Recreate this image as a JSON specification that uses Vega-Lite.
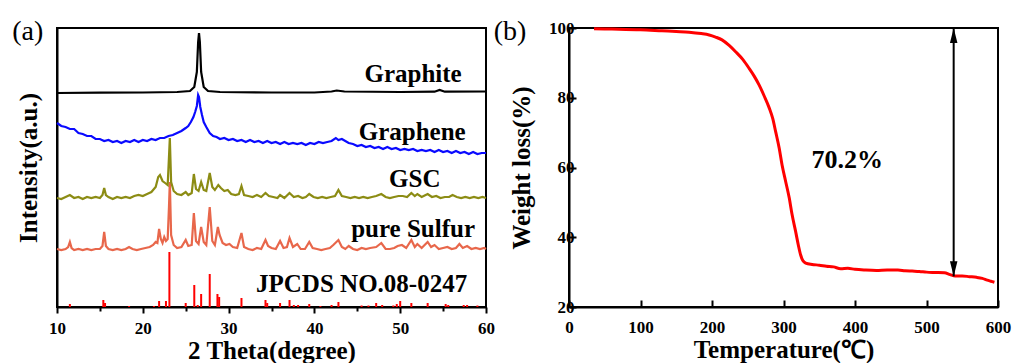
{
  "$schema": "https://vega.github.io/schema/vega-lite/v6.json",
  "padding": {"left": 11, "top": 16, "right": 5, "bottom": 0},
  "bounds": "flush",
  "spacing": 83,
  "config": {
    "font": "Liberation Serif",
    "view": {"stroke": "black", "strokeWidth": 2},
    "text": {"font": "Liberation Serif"},
    "axis": {
      "domainColor": "black", "domainWidth": 2, "tickColor": "black", "tickWidth": 2,
      "labelFont": "Liberation Serif", "labelFontWeight": "bold", "labelFontSize": 17, "labelColor": "black",
      "titleFont": "Liberation Serif", "titleFontWeight": "bold", "titleFontSize": 25, "titleColor": "black",
      "grid": false, "labelFlush": false, "labelOverlap": false
    }
  },
  "datasets": {
    "xrd": [
      {"s":"pure Sulfur","x":10,"y":58},{"s":"pure Sulfur","x":10.5,"y":57},{"s":"pure Sulfur","x":11,"y":58},{"s":"pure Sulfur","x":11.3,"y":60},{"s":"pure Sulfur","x":11.5,"y":65},{"s":"pure Sulfur","x":11.7,"y":59},{"s":"pure Sulfur","x":12,"y":57},{"s":"pure Sulfur","x":12.5,"y":58},{"s":"pure Sulfur","x":13,"y":57},{"s":"pure Sulfur","x":13.5,"y":58},{"s":"pure Sulfur","x":14,"y":57},{"s":"pure Sulfur","x":14.5,"y":58},{"s":"pure Sulfur","x":15,"y":58},{"s":"pure Sulfur","x":15.3,"y":61},{"s":"pure Sulfur","x":15.5,"y":75},{"s":"pure Sulfur","x":15.7,"y":61},{"s":"pure Sulfur","x":16,"y":58},{"s":"pure Sulfur","x":16.5,"y":57},{"s":"pure Sulfur","x":17,"y":58},{"s":"pure Sulfur","x":17.5,"y":57},{"s":"pure Sulfur","x":18,"y":58},{"s":"pure Sulfur","x":18.4,"y":60},{"s":"pure Sulfur","x":18.8,"y":58},{"s":"pure Sulfur","x":19.3,"y":57},{"s":"pure Sulfur","x":19.8,"y":58},{"s":"pure Sulfur","x":20.3,"y":59},{"s":"pure Sulfur","x":20.8,"y":60},{"s":"pure Sulfur","x":21.2,"y":62},{"s":"pure Sulfur","x":21.5,"y":65},{"s":"pure Sulfur","x":21.7,"y":64},{"s":"pure Sulfur","x":21.9,"y":78},{"s":"pure Sulfur","x":22.1,"y":68},{"s":"pure Sulfur","x":22.3,"y":64},{"s":"pure Sulfur","x":22.5,"y":70},{"s":"pure Sulfur","x":22.7,"y":66},{"s":"pure Sulfur","x":22.9,"y":68},{"s":"pure Sulfur","x":23.05,"y":100},{"s":"pure Sulfur","x":23.15,"y":125},{"s":"pure Sulfur","x":23.3,"y":72},{"s":"pure Sulfur","x":23.6,"y":62},{"s":"pure Sulfur","x":24,"y":59},{"s":"pure Sulfur","x":24.5,"y":60},{"s":"pure Sulfur","x":25,"y":67},{"s":"pure Sulfur","x":25.3,"y":61},{"s":"pure Sulfur","x":25.7,"y":62},{"s":"pure Sulfur","x":25.95,"y":94},{"s":"pure Sulfur","x":26.2,"y":66},{"s":"pure Sulfur","x":26.5,"y":63},{"s":"pure Sulfur","x":26.8,"y":80},{"s":"pure Sulfur","x":27.1,"y":65},{"s":"pure Sulfur","x":27.4,"y":62},{"s":"pure Sulfur","x":27.8,"y":100},{"s":"pure Sulfur","x":28.1,"y":66},{"s":"pure Sulfur","x":28.4,"y":62},{"s":"pure Sulfur","x":28.75,"y":80},{"s":"pure Sulfur","x":28.95,"y":72},{"s":"pure Sulfur","x":29.3,"y":64},{"s":"pure Sulfur","x":29.7,"y":62},{"s":"pure Sulfur","x":30.1,"y":63},{"s":"pure Sulfur","x":30.5,"y":60},{"s":"pure Sulfur","x":31,"y":59},{"s":"pure Sulfur","x":31.5,"y":74},{"s":"pure Sulfur","x":31.8,"y":60},{"s":"pure Sulfur","x":32.3,"y":58},{"s":"pure Sulfur","x":32.8,"y":57},{"s":"pure Sulfur","x":33.3,"y":59},{"s":"pure Sulfur","x":33.8,"y":58},{"s":"pure Sulfur","x":34.3,"y":67},{"s":"pure Sulfur","x":34.6,"y":61},{"s":"pure Sulfur","x":35,"y":59},{"s":"pure Sulfur","x":35.5,"y":58},{"s":"pure Sulfur","x":36,"y":66},{"s":"pure Sulfur","x":36.4,"y":59},{"s":"pure Sulfur","x":36.8,"y":60},{"s":"pure Sulfur","x":37.1,"y":69},{"s":"pure Sulfur","x":37.5,"y":60},{"s":"pure Sulfur","x":38,"y":63},{"s":"pure Sulfur","x":38.4,"y":58},{"s":"pure Sulfur","x":38.9,"y":58},{"s":"pure Sulfur","x":39.4,"y":65},{"s":"pure Sulfur","x":39.8,"y":59},{"s":"pure Sulfur","x":40.3,"y":58},{"s":"pure Sulfur","x":40.8,"y":57},{"s":"pure Sulfur","x":41.3,"y":58},{"s":"pure Sulfur","x":41.8,"y":59},{"s":"pure Sulfur","x":42.2,"y":62},{"s":"pure Sulfur","x":42.8,"y":67},{"s":"pure Sulfur","x":43.2,"y":60},{"s":"pure Sulfur","x":43.6,"y":58},{"s":"pure Sulfur","x":44,"y":61},{"s":"pure Sulfur","x":44.5,"y":58},{"s":"pure Sulfur","x":45,"y":57},{"s":"pure Sulfur","x":45.5,"y":59},{"s":"pure Sulfur","x":46,"y":58},{"s":"pure Sulfur","x":46.5,"y":59},{"s":"pure Sulfur","x":47.2,"y":60},{"s":"pure Sulfur","x":47.8,"y":64},{"s":"pure Sulfur","x":48.3,"y":58},{"s":"pure Sulfur","x":48.8,"y":58},{"s":"pure Sulfur","x":49.3,"y":59},{"s":"pure Sulfur","x":49.7,"y":61},{"s":"pure Sulfur","x":50.2,"y":62},{"s":"pure Sulfur","x":50.7,"y":59},{"s":"pure Sulfur","x":51.3,"y":67},{"s":"pure Sulfur","x":51.7,"y":60},{"s":"pure Sulfur","x":52,"y":63},{"s":"pure Sulfur","x":52.5,"y":59},{"s":"pure Sulfur","x":53.2,"y":65},{"s":"pure Sulfur","x":53.6,"y":60},{"s":"pure Sulfur","x":54,"y":62},{"s":"pure Sulfur","x":54.5,"y":58},{"s":"pure Sulfur","x":55,"y":59},{"s":"pure Sulfur","x":55.5,"y":60},{"s":"pure Sulfur","x":56,"y":58},{"s":"pure Sulfur","x":56.5,"y":59},{"s":"pure Sulfur","x":56.9,"y":63},{"s":"pure Sulfur","x":57.3,"y":59},{"s":"pure Sulfur","x":57.8,"y":61},{"s":"pure Sulfur","x":58.3,"y":58},{"s":"pure Sulfur","x":58.8,"y":59},{"s":"pure Sulfur","x":59.3,"y":58},{"s":"pure Sulfur","x":59.8,"y":59},{"s":"pure Sulfur","x":60,"y":58},

      {"s":"GSC","x":10,"y":109},{"s":"GSC","x":10.5,"y":108},{"s":"GSC","x":11,"y":110},{"s":"GSC","x":11.5,"y":112},{"s":"GSC","x":12,"y":109},{"s":"GSC","x":12.5,"y":110},{"s":"GSC","x":13,"y":108},{"s":"GSC","x":13.5,"y":110},{"s":"GSC","x":14,"y":109},{"s":"GSC","x":14.5,"y":110},{"s":"GSC","x":15,"y":109},{"s":"GSC","x":15.3,"y":112},{"s":"GSC","x":15.5,"y":119},{"s":"GSC","x":15.7,"y":112},{"s":"GSC","x":16,"y":110},{"s":"GSC","x":16.5,"y":108},{"s":"GSC","x":17,"y":110},{"s":"GSC","x":17.5,"y":109},{"s":"GSC","x":18,"y":110},{"s":"GSC","x":18.5,"y":109},{"s":"GSC","x":19,"y":111},{"s":"GSC","x":19.5,"y":112},{"s":"GSC","x":20,"y":111},{"s":"GSC","x":20.5,"y":113},{"s":"GSC","x":21,"y":115},{"s":"GSC","x":21.5,"y":120},{"s":"GSC","x":21.8,"y":130},{"s":"GSC","x":22,"y":132},{"s":"GSC","x":22.3,"y":126},{"s":"GSC","x":22.6,"y":124},{"s":"GSC","x":22.9,"y":122},{"s":"GSC","x":23.05,"y":150},{"s":"GSC","x":23.15,"y":169},{"s":"GSC","x":23.3,"y":125},{"s":"GSC","x":23.6,"y":116},{"s":"GSC","x":24,"y":113},{"s":"GSC","x":24.5,"y":112},{"s":"GSC","x":25,"y":115},{"s":"GSC","x":25.3,"y":112},{"s":"GSC","x":25.7,"y":114},{"s":"GSC","x":25.95,"y":133},{"s":"GSC","x":26.2,"y":118},{"s":"GSC","x":26.5,"y":116},{"s":"GSC","x":26.8,"y":125},{"s":"GSC","x":27.1,"y":117},{"s":"GSC","x":27.4,"y":116},{"s":"GSC","x":27.8,"y":134},{"s":"GSC","x":28.1,"y":120},{"s":"GSC","x":28.4,"y":117},{"s":"GSC","x":28.8,"y":122},{"s":"GSC","x":29.1,"y":119},{"s":"GSC","x":29.5,"y":116},{"s":"GSC","x":29.9,"y":117},{"s":"GSC","x":30.3,"y":113},{"s":"GSC","x":30.8,"y":112},{"s":"GSC","x":31.2,"y":113},{"s":"GSC","x":31.5,"y":121},{"s":"GSC","x":31.8,"y":112},{"s":"GSC","x":32.3,"y":111},{"s":"GSC","x":32.8,"y":110},{"s":"GSC","x":33.3,"y":112},{"s":"GSC","x":33.8,"y":110},{"s":"GSC","x":34.3,"y":114},{"s":"GSC","x":34.7,"y":111},{"s":"GSC","x":35.2,"y":110},{"s":"GSC","x":35.7,"y":109},{"s":"GSC","x":36,"y":112},{"s":"GSC","x":36.5,"y":109},{"s":"GSC","x":37.1,"y":114},{"s":"GSC","x":37.6,"y":110},{"s":"GSC","x":38.1,"y":111},{"s":"GSC","x":38.6,"y":109},{"s":"GSC","x":39,"y":110},{"s":"GSC","x":39.4,"y":113},{"s":"GSC","x":39.9,"y":110},{"s":"GSC","x":40.4,"y":109},{"s":"GSC","x":40.9,"y":110},{"s":"GSC","x":41.4,"y":109},{"s":"GSC","x":41.9,"y":110},{"s":"GSC","x":42.4,"y":111},{"s":"GSC","x":42.8,"y":117},{"s":"GSC","x":43.2,"y":111},{"s":"GSC","x":43.7,"y":110},{"s":"GSC","x":44.2,"y":109},{"s":"GSC","x":44.7,"y":110},{"s":"GSC","x":45.2,"y":109},{"s":"GSC","x":45.7,"y":110},{"s":"GSC","x":46.2,"y":109},{"s":"GSC","x":46.7,"y":110},{"s":"GSC","x":47.2,"y":111},{"s":"GSC","x":47.8,"y":113},{"s":"GSC","x":48.3,"y":110},{"s":"GSC","x":48.8,"y":109},{"s":"GSC","x":49.3,"y":110},{"s":"GSC","x":49.8,"y":111},{"s":"GSC","x":50.3,"y":111},{"s":"GSC","x":50.8,"y":110},{"s":"GSC","x":51.3,"y":114},{"s":"GSC","x":51.7,"y":111},{"s":"GSC","x":52,"y":113},{"s":"GSC","x":52.5,"y":110},{"s":"GSC","x":53.2,"y":113},{"s":"GSC","x":53.7,"y":110},{"s":"GSC","x":54.2,"y":111},{"s":"GSC","x":54.7,"y":109},{"s":"GSC","x":55.2,"y":110},{"s":"GSC","x":55.7,"y":110},{"s":"GSC","x":56.1,"y":112},{"s":"GSC","x":56.6,"y":110},{"s":"GSC","x":57.1,"y":109},{"s":"GSC","x":57.6,"y":110},{"s":"GSC","x":58.1,"y":109},{"s":"GSC","x":58.6,"y":110},{"s":"GSC","x":59.1,"y":109},{"s":"GSC","x":59.6,"y":110},{"s":"GSC","x":60,"y":109},

      {"s":"Graphene","x":10,"y":184},{"s":"Graphene","x":10.5,"y":181},{"s":"Graphene","x":11,"y":180},{"s":"Graphene","x":11.5,"y":178},{"s":"Graphene","x":12,"y":178},{"s":"Graphene","x":12.5,"y":174},{"s":"Graphene","x":13,"y":173},{"s":"Graphene","x":13.5,"y":171},{"s":"Graphene","x":14,"y":171},{"s":"Graphene","x":14.5,"y":168},{"s":"Graphene","x":15,"y":168},{"s":"Graphene","x":15.5,"y":166},{"s":"Graphene","x":16,"y":167},{"s":"Graphene","x":16.5,"y":165},{"s":"Graphene","x":17,"y":166},{"s":"Graphene","x":17.5,"y":164},{"s":"Graphene","x":18,"y":166},{"s":"Graphene","x":18.5,"y":165},{"s":"Graphene","x":19,"y":167},{"s":"Graphene","x":19.5,"y":165},{"s":"Graphene","x":20,"y":167},{"s":"Graphene","x":20.5,"y":166},{"s":"Graphene","x":21,"y":168},{"s":"Graphene","x":21.5,"y":167},{"s":"Graphene","x":22,"y":169},{"s":"Graphene","x":22.5,"y":169},{"s":"Graphene","x":23,"y":171},{"s":"Graphene","x":23.5,"y":172},{"s":"Graphene","x":24,"y":174},{"s":"Graphene","x":24.5,"y":176},{"s":"Graphene","x":25,"y":179},{"s":"Graphene","x":25.3,"y":181},{"s":"Graphene","x":25.6,"y":185},{"s":"Graphene","x":25.9,"y":190},{"s":"Graphene","x":26.1,"y":195},{"s":"Graphene","x":26.3,"y":201},{"s":"Graphene","x":26.45,"y":212},{"s":"Graphene","x":26.55,"y":210},{"s":"Graphene","x":26.7,"y":200},{"s":"Graphene","x":26.9,"y":192},{"s":"Graphene","x":27.1,"y":185},{"s":"Graphene","x":27.4,"y":180},{"s":"Graphene","x":27.8,"y":174},{"s":"Graphene","x":28.2,"y":171},{"s":"Graphene","x":28.6,"y":170},{"s":"Graphene","x":29,"y":168},{"s":"Graphene","x":29.5,"y":169},{"s":"Graphene","x":30,"y":167},{"s":"Graphene","x":30.5,"y":168},{"s":"Graphene","x":31,"y":166},{"s":"Graphene","x":31.5,"y":167},{"s":"Graphene","x":32,"y":165},{"s":"Graphene","x":32.5,"y":167},{"s":"Graphene","x":33,"y":165},{"s":"Graphene","x":33.5,"y":166},{"s":"Graphene","x":34,"y":164},{"s":"Graphene","x":34.5,"y":166},{"s":"Graphene","x":35,"y":164},{"s":"Graphene","x":35.5,"y":165},{"s":"Graphene","x":36,"y":163},{"s":"Graphene","x":36.5,"y":165},{"s":"Graphene","x":37,"y":163},{"s":"Graphene","x":37.5,"y":164},{"s":"Graphene","x":38,"y":163},{"s":"Graphene","x":38.5,"y":164},{"s":"Graphene","x":39,"y":162},{"s":"Graphene","x":39.5,"y":164},{"s":"Graphene","x":40,"y":163},{"s":"Graphene","x":40.5,"y":165},{"s":"Graphene","x":41,"y":164},{"s":"Graphene","x":41.5,"y":165},{"s":"Graphene","x":42,"y":166},{"s":"Graphene","x":42.5,"y":169},{"s":"Graphene","x":42.8,"y":167},{"s":"Graphene","x":43.2,"y":168},{"s":"Graphene","x":43.6,"y":166},{"s":"Graphene","x":44,"y":164},{"s":"Graphene","x":44.5,"y":163},{"s":"Graphene","x":45,"y":161},{"s":"Graphene","x":45.5,"y":162},{"s":"Graphene","x":46,"y":160},{"s":"Graphene","x":46.5,"y":161},{"s":"Graphene","x":47,"y":159},{"s":"Graphene","x":47.5,"y":160},{"s":"Graphene","x":48,"y":158},{"s":"Graphene","x":48.5,"y":160},{"s":"Graphene","x":49,"y":158},{"s":"Graphene","x":49.5,"y":159},{"s":"Graphene","x":50,"y":157},{"s":"Graphene","x":50.5,"y":158},{"s":"Graphene","x":51,"y":157},{"s":"Graphene","x":51.5,"y":158},{"s":"Graphene","x":52,"y":156},{"s":"Graphene","x":52.5,"y":157},{"s":"Graphene","x":53,"y":156},{"s":"Graphene","x":53.5,"y":157},{"s":"Graphene","x":54,"y":155},{"s":"Graphene","x":54.5,"y":157},{"s":"Graphene","x":55,"y":155},{"s":"Graphene","x":55.5,"y":156},{"s":"Graphene","x":56,"y":154},{"s":"Graphene","x":56.5,"y":156},{"s":"Graphene","x":57,"y":154},{"s":"Graphene","x":57.5,"y":155},{"s":"Graphene","x":58,"y":153},{"s":"Graphene","x":58.5,"y":155},{"s":"Graphene","x":59,"y":153},{"s":"Graphene","x":59.5,"y":154},{"s":"Graphene","x":60,"y":154},

      {"s":"Graphite","x":10,"y":214},{"s":"Graphite","x":15,"y":214.3},{"s":"Graphite","x":20,"y":214.5},{"s":"Graphite","x":24,"y":215},{"s":"Graphite","x":25.5,"y":216},{"s":"Graphite","x":26,"y":220},{"s":"Graphite","x":26.3,"y":235},{"s":"Graphite","x":26.45,"y":265},{"s":"Graphite","x":26.55,"y":274},{"s":"Graphite","x":26.65,"y":265},{"s":"Graphite","x":26.8,"y":235},{"s":"Graphite","x":27.1,"y":220},{"s":"Graphite","x":27.6,"y":216},{"s":"Graphite","x":29,"y":215},{"s":"Graphite","x":35,"y":214.5},{"s":"Graphite","x":40,"y":214.5},{"s":"Graphite","x":42,"y":215.5},{"s":"Graphite","x":42.6,"y":216.5},{"s":"Graphite","x":43.5,"y":215.5},{"s":"Graphite","x":50,"y":215},{"s":"Graphite","x":54,"y":215.3},{"s":"Graphite","x":54.6,"y":217},{"s":"Graphite","x":55.2,"y":215.3},{"s":"Graphite","x":60,"y":215.5}
    ],
    "sticks": [
      {"x":11.5,"h":3},{"x":15.4,"h":7},{"x":15.6,"h":4},{"x":18.4,"h":1},{"x":21.3,"h":1},{"x":21.9,"h":6},{"x":22.7,"h":6},{"x":23.1,"h":55},{"x":25.0,"h":4},{"x":26.0,"h":22},{"x":26.4,"h":2},{"x":26.8,"h":13},{"x":27.8,"h":33},{"x":28.7,"h":13},{"x":28.9,"h":10},{"x":31.5,"h":9},{"x":34.3,"h":7},{"x":34.5,"h":4},{"x":36.0,"h":4},{"x":37.1,"h":7},{"x":37.6,"h":2},{"x":38.1,"h":2},{"x":39.4,"h":3},{"x":40.7,"h":1},{"x":42.0,"h":2},{"x":42.8,"h":5},{"x":45.5,"h":1.5},{"x":46.3,"h":1.5},{"x":47.2,"h":4},{"x":47.9,"h":2},{"x":49.2,"h":1.5},{"x":49.6,"h":3},{"x":50.0,"h":6},{"x":51.3,"h":4},{"x":53.2,"h":4},{"x":55.3,"h":3},{"x":55.6,"h":2},{"x":57.4,"h":2},{"x":57.8,"h":2},{"x":59.0,"h":1.5}
    ],
    "labelsA": [
      {"t":"Graphite","x":51.5,"y":225},{"t":"Graphene","x":51.4,"y":167},{"t":"GSC","x":51.7,"y":120},{"t":"pure Sulfur","x":51.5,"y":70},{"t":"JPCDS NO.08-0247","x":45.5,"y":15}
    ],
    "tga": [
      {"T":35,"W":99.8},{"T":60,"W":99.7},{"T":100,"W":99.5},{"T":130,"W":99.2},{"T":150,"W":99.0},{"T":168,"W":98.8},{"T":185,"W":98.4},{"T":196,"W":98.0},{"T":205,"W":97.4},{"T":214,"W":96.6},{"T":224,"W":95.0},{"T":233,"W":93.2},{"T":243,"W":91.0},{"T":252,"W":88.4},{"T":259,"W":86.2},{"T":266,"W":83.6},{"T":273,"W":80.5},{"T":280,"W":77.1},{"T":285,"W":74.0},{"T":289,"W":70.3},{"T":294,"W":65.5},{"T":298,"W":60.7},{"T":303,"W":56.0},{"T":308,"W":51.3},{"T":312,"W":46.5},{"T":317,"W":41.6},{"T":321,"W":37.5},{"T":324,"W":34.9},{"T":327,"W":33.3},{"T":331,"W":32.6},{"T":340,"W":32.2},{"T":350,"W":32.0},{"T":360,"W":31.7},{"T":370,"W":31.5},{"T":380,"W":31.0},{"T":390,"W":31.1},{"T":400,"W":30.8},{"T":415,"W":30.6},{"T":430,"W":30.5},{"T":445,"W":30.6},{"T":460,"W":30.6},{"T":470,"W":30.4},{"T":480,"W":30.3},{"T":490,"W":30.2},{"T":500,"W":30.0},{"T":512,"W":29.9},{"T":525,"W":29.8},{"T":533,"W":29.3},{"T":540,"W":28.9},{"T":550,"W":28.9},{"T":560,"W":28.7},{"T":570,"W":28.5},{"T":578,"W":28.2},{"T":585,"W":27.7},{"T":590,"W":27.4},{"T":595,"W":27.1}
    ],
    "arrow": [{"T":538,"W1":28.8,"W2":100}],
    "heads": [{"T":538,"W":100,"d":"up"},{"T":538,"W":28.8,"d":"down"}]
  },
  "hconcat": [
    {
      "width": 429, "height": 279,
      "layer": [
        {
          "data": {"name": "xrd"},
          "mark": {"type": "line", "strokeWidth": 2.2},
          "encoding": {
            "x": {"field": "x", "type": "quantitative", "scale": {"domain": [10, 60], "nice": false},
              "axis": {"title": "2 Theta(degree)", "values": [10,15,20,25,30,35,40,45,50,55,60],
                "labelExpr": "datum.value % 10 === 0 ? datum.label : ''",
                "tickSize": {"condition": {"test": "datum.value % 10 === 0", "value": 6}, "value": 4},
                "labelPadding": 7, "titlePadding": 2}},
            "y": {"field": "y", "type": "quantitative", "scale": {"domain": [0, 279], "nice": false},
              "axis": {"title": "Intensity(a.u.)", "labels": false, "ticks": false, "titlePadding": 16}},
            "color": {"field": "s", "type": "nominal", "legend": null,
              "scale": {"domain": ["pure Sulfur", "GSC", "Graphene", "Graphite"], "range": ["#e8674b", "#8c8c14", "#0a0aff", "#000000"]}}
          }
        },
        {
          "data": {"name": "sticks"},
          "mark": {"type": "rule", "color": "#ff0000", "strokeWidth": 2},
          "encoding": {
            "x": {"field": "x", "type": "quantitative"},
            "y": {"field": "h", "type": "quantitative"},
            "y2": {"datum": 0}
          }
        },
        {
          "data": {"name": "labelsA"},
          "mark": {"type": "text", "fontWeight": "bold", "fontSize": 25, "align": "center", "baseline": "alphabetic", "color": "black"},
          "encoding": {
            "x": {"field": "x", "type": "quantitative"},
            "y": {"field": "y", "type": "quantitative"},
            "text": {"field": "t"}
          }
        },
        {
          "data": {"values": [{"t": "(a)", "x": 6.6, "y": 267}]},
          "mark": {"type": "text", "fontSize": 28, "align": "center", "baseline": "alphabetic", "color": "black"},
          "encoding": {
            "x": {"field": "x", "type": "quantitative"},
            "y": {"field": "y", "type": "quantitative"},
            "text": {"field": "t"}
          }
        }
      ]
    },
    {
      "width": 429, "height": 279,
      "layer": [
        {
          "data": {"name": "tga"},
          "mark": {"type": "line", "color": "#ff0000", "strokeWidth": 3, "interpolate": "monotone"},
          "encoding": {
            "x": {"field": "T", "type": "quantitative", "scale": {"domain": [0, 600], "nice": false},
              "axis": {"title": "Temperature(℃)", "values": [0,50,100,150,200,250,300,350,400,450,500,550,600],
                "labelExpr": "datum.value % 100 === 0 ? datum.label : ''",
                "tickSize": {"condition": {"test": "datum.value % 100 === 0", "value": -7}, "value": -4},
                "labelPadding": 19, "titlePadding": 2}},
            "y": {"field": "W", "type": "quantitative", "scale": {"domain": [20, 100], "nice": false},
              "axis": {"title": "Weight loss(%)", "values": [20,30,40,50,60,70,80,90,100],
                "labelExpr": "datum.value % 20 === 0 ? datum.label : ''",
                "tickSize": {"condition": {"test": "datum.value % 20 === 0", "value": -7}, "value": -4},
                "labelPadding": 2, "titlePadding": 14}}
          }
        },
        {
          "data": {"name": "arrow"},
          "mark": {"type": "rule", "color": "black", "strokeWidth": 2},
          "encoding": {
            "x": {"field": "T", "type": "quantitative"},
            "y": {"field": "W1", "type": "quantitative"},
            "y2": {"field": "W2"}
          }
        },
        {
          "data": {"name": "heads"},
          "mark": {"type": "point", "filled": true, "color": "black", "opacity": 1, "size": 225},
          "encoding": {
            "x": {"field": "T", "type": "quantitative"},
            "y": {"field": "W", "type": "quantitative"},
            "shape": {"field": "d", "type": "nominal", "legend": null,
              "scale": {"domain": ["up", "down"], "range": ["M0,0L0.5,2L-0.5,2Z", "M0,0L0.5,-2L-0.5,-2Z"]}}
          }
        },
        {
          "data": {"values": [{"t": "70.2%", "T": 389, "W": 60}]},
          "mark": {"type": "text", "fontWeight": "bold", "fontSize": 26, "align": "center", "baseline": "alphabetic", "color": "black"},
          "encoding": {
            "x": {"field": "T", "type": "quantitative"},
            "y": {"field": "W", "type": "quantitative"},
            "text": {"field": "t"}
          }
        },
        {
          "data": {"values": [{"t": "(b)", "T": -82.5, "W": 96.6}]},
          "mark": {"type": "text", "fontSize": 28, "align": "center", "baseline": "alphabetic", "color": "black"},
          "encoding": {
            "x": {"field": "T", "type": "quantitative"},
            "y": {"field": "W", "type": "quantitative"},
            "text": {"field": "t"}
          }
        }
      ]
    }
  ]
}
